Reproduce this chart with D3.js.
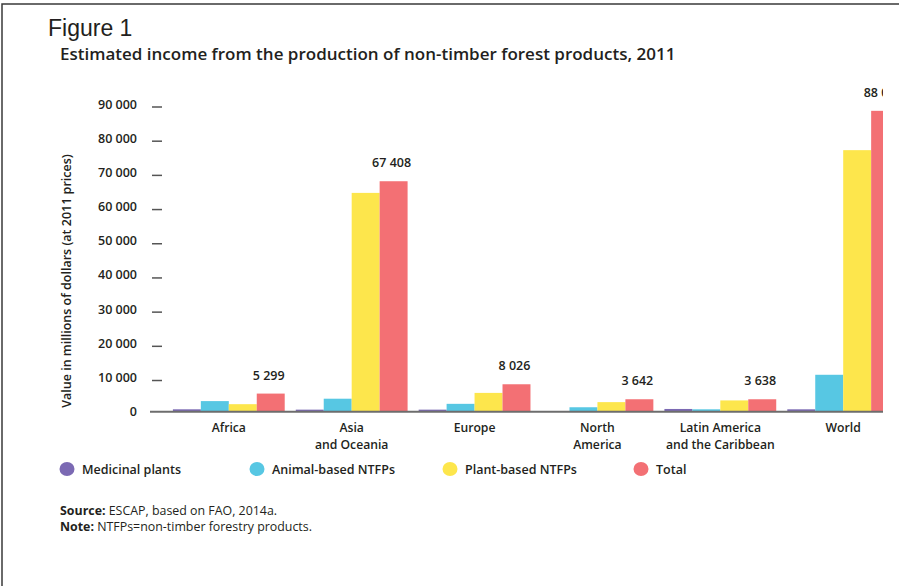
<!DOCTYPE html>
<html>
<head>
<meta charset="utf-8">
<script src="https://cdn.jsdelivr.net/npm/d3@7"></script>
<style>
  body { margin: 0; background: #fff; }
  svg { display: block; }
  text { fill: #231f20; }
</style>
</head>
<body>
<div id="chart"></div>
<script>
// data (millions of dollars, 2011 prices)
var categories = ["Africa", "Asia|and Oceania", "Europe", "North|America", "Latin America|and the Caribbean", "World"];
var medicinal = [700, 600, 600, 0, 800, 700];
var animal = [3100, 3800, 2300, 1300, 700, 10800];
var plant = [2200, 64000, 5500, 2800, 3300, 76500];
var total = [5299, 67408, 8026, 3642, 3638, 88000];
var seriesNames = ["Medicinal plants", "Animal-based NTFPs", "Plant-based NTFPs", "Total"];
var yTicks = [0, 10000, 20000, 30000, 40000, 50000, 60000, 70000, 80000, 90000];

var colors = ["#7b69b3", "#57c7e3", "#fde64c", "#f37074"];
var series = [medicinal, animal, plant, total];

var width = 899, height = 586;
var font = "'Open Sans', sans-serif";

var locale = d3.formatLocale({decimal: ".", thousands: " ", grouping: [3], currency: ["", ""]});
var fmt = locale.format(",d");

var svg = d3.select("#chart").append("svg")
    .attr("width", width)
    .attr("height", height);

// frame (cropped page)
svg.append("path")
    .attr("d", "M2,586 L2,4 L899,4")
    .attr("fill", "none")
    .attr("stroke", "#3a3a3a")
    .attr("stroke-width", 1.5);

svg.append("text")
    .attr("x", 48).attr("y", 36)
    .style("font-family", "'Liberation Sans', Arial, sans-serif")
    .style("font-size", "23px")
    .text("Figure 1");

svg.append("text")
    .attr("x", 60).attr("y", 60)
    .style("font-family", font)
    .style("font-size", "17px")
    .style("font-weight", 600)
    .text("Estimated income from the production of non-timber forest products, 2011");

var y = d3.scaleLinear()
    .domain([0, 90000])
    .range([411.7, 104]);

var x0 = d3.scaleBand()
    .domain(categories)
    .range([152, 920])
    .paddingInner(0.09)
    .paddingOuter(0.17);

var x1 = d3.scaleBand()
    .domain(d3.range(4))
    .range([0, x0.bandwidth()]);

// y axis: short dashes, labels to the left
var yAxis = d3.axisLeft(y)
    .tickValues(yTicks)
    .tickSize(10)
    .tickPadding(15)
    .tickFormat(fmt);

var gy = svg.append("g")
    .attr("transform", "translate(162,0)")
    .call(yAxis);
gy.select(".domain").remove();
gy.selectAll(".tick line")
    .attr("stroke", "#555")
    .attr("stroke-width", 1.5)
    .attr("transform", "translate(0,2.5)");
gy.selectAll(".tick text")
    .style("font-family", font)
    .style("font-size", "12.5px")
    .style("font-weight", 600)
    .attr("fill", "#231f20");
gy.selectAll(".tick").filter(function (d) { return d === 0; }).select("line").remove();

svg.append("text")
    .attr("transform", "translate(71,281) rotate(-90)")
    .attr("text-anchor", "middle")
    .style("font-family", font)
    .style("font-size", "12.5px")
    .style("font-weight", 600)
    .text("Value in millions of dollars (at 2011 prices)");

// the page crops the chart at the right
svg.append("clipPath").attr("id", "crop")
    .append("rect").attr("x", 0).attr("y", 0).attr("width", 883).attr("height", height);

var plot = svg.append("g").attr("clip-path", "url(#crop)");

var groups = plot.selectAll(".group")
    .data(categories)
    .enter()
    .append("g")
    .attr("class", "group")
    .attr("transform", function (d) { return "translate(" + x0(d) + ",0)"; });

groups.selectAll("rect")
    .data(function (d, i) {
        return series.map(function (s, k) { return {k: k, value: s[i]}; });
    })
    .enter()
    .append("rect")
    .attr("x", function (d) { return x1(d.k); })
    .attr("width", x1.bandwidth())
    .attr("y", function (d) { return y(d.value); })
    .attr("height", function (d) { return y(0) - y(d.value); })
    .attr("fill", function (d) { return colors[d.k]; });

// value labels over the total bars
groups.append("text")
    .attr("x", function () { return x1(3) + x1.bandwidth() / 2 - 2; })
    .attr("y", function (d, i) { return y(total[i]) - 14; })
    .attr("text-anchor", "middle")
    .style("font-family", font)
    .style("font-size", "12.5px")
    .style("font-weight", 600)
    .text(function (d, i) { return fmt(total[i]); });

plot.append("line")
    .attr("x1", 150).attr("x2", 920)
    .attr("y1", y(0)).attr("y2", y(0))
    .attr("stroke", "#6d6d6d")
    .attr("stroke-width", 2);

// category labels, one text per line
var catLines = [];
categories.forEach(function (c) {
    c.split("|").forEach(function (line, i) {
        catLines.push({cat: c, line: line, row: i});
    });
});
svg.selectAll(".cat")
    .data(catLines)
    .enter()
    .append("text")
    .attr("class", "cat")
    .attr("text-anchor", "middle")
    .attr("x", function (d) { return x0(d.cat) + x0.bandwidth() / 2; })
    .attr("y", function (d) { return 432 + d.row * 16.5; })
    .style("font-family", font)
    .style("font-size", "12.2px")
    .style("font-weight", 600)
    .text(function (d) { return d.line; });

// legend
var legendX = [67, 257, 450, 641];
var legend = svg.selectAll(".legend")
    .data(seriesNames)
    .enter()
    .append("g")
    .attr("class", "legend")
    .attr("transform", function (d, i) { return "translate(" + legendX[i] + ",469)"; });
legend.append("ellipse")
    .attr("rx", 7.5).attr("ry", 7)
    .attr("fill", function (d, i) { return colors[i]; });
legend.append("text")
    .attr("x", 15).attr("y", 5)
    .style("font-family", font)
    .style("font-size", "12.5px")
    .style("font-weight", 600)
    .text(function (d) { return d; });

// source and note
var notes = [["Source:", " ESCAP, based on FAO, 2014a."], ["Note:", " NTFPs=non-timber forestry products."]];
var nt = svg.selectAll(".note")
    .data(notes)
    .enter()
    .append("text")
    .attr("x", 60)
    .attr("y", function (d, i) { return 515 + i * 16; })
    .style("font-family", font)
    .style("font-size", "12.4px");
nt.append("tspan").style("font-weight", 700).text(function (d) { return d[0]; });
nt.append("tspan").text(function (d) { return d[1]; });
</script>
</body>
</html>
